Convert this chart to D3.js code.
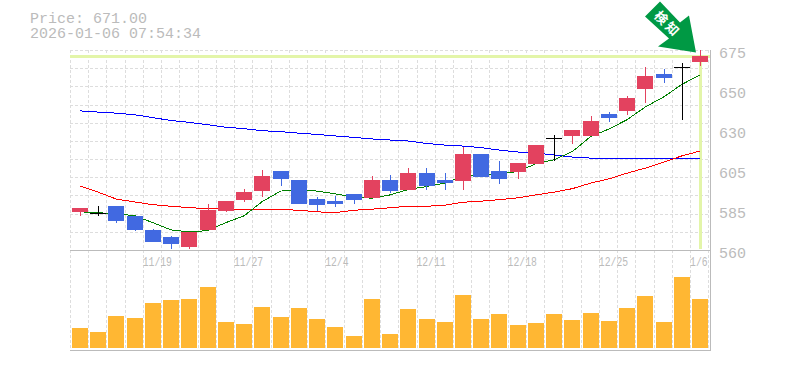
<!DOCTYPE html>
<html>
<head>
<meta charset="utf-8">
<script src="https://cdn.jsdelivr.net/npm/d3@7"></script>
<style>
  html, body { margin: 0; padding: 0; background: #fff; }
  text { font-family: "Liberation Mono", monospace; fill: #bbb; }
  .grid line { stroke: #ddd; stroke-dasharray: 3 2; shape-rendering: crispEdges; }
  .frame line { stroke: #bbb; shape-rendering: crispEdges; }
  .ma { fill: none; stroke-width: 1; shape-rendering: crispEdges; }
</style>
</head>
<body>
<svg class="chart" width="785" height="370"></svg>
<script>
const dates = ['11/13', '11/14', '11/17', '11/18', '11/19', '11/20', '11/21', '11/25', '11/26', '11/27',
  '11/28', '12/1', '12/2', '12/3', '12/4', '12/5', '12/8', '12/9', '12/10', '12/11',
  '12/12', '12/15', '12/16', '12/17', '12/18', '12/19', '12/22', '12/23', '12/24', '12/25',
  '12/26', '12/29', '12/30', '1/5', '1/6'];
const dateLabels = ['11/19', '11/27', '12/4', '12/11', '12/18', '12/25', '1/6'];
const priceLabels = ['560', '585', '605', '630', '650', '675'];

const opens = [581.9, 581.3, 585.3, 579.6, 571.5, 567.5, 561.7, 571.5, 582.4, 588.8,
  593.9, 605.4, 600.3, 589.3, 588.2, 592.2, 589.9, 600.3, 594.5, 604.3,
  600.3, 599.7, 615.2, 605.4, 604.9, 609.5, 624.4, 625.6, 625.6, 638.2,
  639.9, 652.6, 661.2, 665.2, 667.5];
const closes = [584.2, 581.3, 576.7, 571.5, 564.6, 563.5, 570.4, 583, 588.2, 593.4,
  602.6, 600.8, 586.5, 585.9, 586.5, 588.8, 600.3, 593.9, 604.3, 596.8,
  598.5, 615.2, 602, 600.8, 610, 620.4, 624.4, 629, 634.2, 635.9,
  647.4, 660, 658.9, 665.2, 671];
const highs = [584.2, 585.1, 585.3, 579.6, 572.1, 568.1, 570.4, 586.5, 588.2, 595.1,
  606, 605.4, 600.3, 590.5, 591, 592.2, 602.6, 603.1, 607.2, 607.2,
  604.3, 619.2, 615.2, 611.2, 610, 620.4, 626.1, 629, 637, 639.4,
  648.6, 665.2, 664.1, 667.5, 675];
const lows = [579.6, 579.6, 575.7, 570.9, 564.6, 560.6, 560.6, 571.5, 581.9, 587.6,
  590.5, 596.8, 586.5, 582.4, 584.7, 586.5, 589.9, 592.8, 594.5, 594.5,
  594.5, 594.5, 602, 598, 600.8, 609.5, 611.2, 621, 625.6, 633.6,
  637.6, 644.5, 655.5, 634.8, 665.8];

const maShort = [581.9, 581.4, 580.7, 579.7, 575.7, 571.5, 570.4, 571.1, 575.7, 579.6,
  587.8, 593.8, 594.5, 593.8, 592.2, 590.5, 589.7, 591.6, 594.7, 596.4,
  598.4, 602.1, 603.1, 603.7, 605, 609.5, 611.8, 616.5, 625.1, 629.4,
  634.8, 642.1, 647.8, 655, 660.5];
const maMiddle = [596.8, 593.2, 589.2, 587.6, 586, 585.1, 584.3, 583.7, 583.4, 583.4,
  583.4, 583.2, 582.8, 581.9, 581.4, 582.8, 583.4, 584.2, 585.1, 585.1,
  585.7, 587.4, 588, 588.9, 589.9, 591.6, 593.2, 595.2, 598.4, 600.8,
  604.1, 607, 610.4, 614, 616.8];
const maLong = [639.8, 639.1, 638.5, 637.6, 635.9, 634.3, 633.2, 631.9, 630.4, 629.6,
  628.4, 627.9, 627, 626.3, 625.4, 624.6, 623.7, 623.1, 622.5, 621.1,
  620.2, 619.6, 618.7, 617.3, 616.2, 615.6, 614.5, 613.3, 612.7, 612.2,
  612.2, 612.2, 612.2, 612.2, 612.7];

const volumes = [20, 16, 32, 30, 45, 48, 49, 61, 26, 24,
  41, 31, 40, 29, 21, 12, 49, 14, 39, 29,
  26, 53, 29, 34, 23, 25, 34, 28, 35, 27,
  40, 52, 26, 71, 49];

const lastPrice = 671;
const gridCount = 11;

const x = d3.scaleBand().domain(dates).range([70, 710]).paddingInner(0.125).paddingOuter(0.1);
const y = d3.scaleLinear().domain([560, 675]).range([250, 49.5]);
const yLabel = d3.scalePoint().domain(priceLabels).range([250, 50]);
const yVolume = d3.scaleLinear().domain([0, 96]).range([348, 252]);

const chart = d3.select('.chart');
const barX = d => Math.round(x(d));
const midX = d => Math.round(x(d) + x.bandwidth() / 2);

/**
 * Header text
 */
const header = chart.append('text').attr('font-size', 15);
header.append('tspan').attr('x', 30).attr('y', 23).text('Price: 671.00');
header.append('tspan').attr('x', 30).attr('y', 38).text('2026-01-06 07:54:34');

/**
 * Grid
 */
const grid = chart.append('g').attr('class', 'grid');
grid.selectAll('.grid-h')
  .data(d3.range(1, gridCount + 1))
  .enter()
  .append('line')
  .attr('class', 'grid-h')
  .attr('x1', 70)
  .attr('x2', 710)
  .attr('y1', d => Math.round(250 - d * 200 / gridCount))
  .attr('y2', d => Math.round(250 - d * 200 / gridCount));
grid.selectAll('.grid-v')
  .data(dates)
  .enter()
  .append('line')
  .attr('class', 'grid-v')
  .attr('x1', d => barX(d) - 2)
  .attr('x2', d => barX(d) - 2)
  .attr('y1', 50)
  .attr('y2', 350);
grid.append('line')
  .attr('x1', 708.5).attr('x2', 708.5)
  .attr('y1', 50).attr('y2', 350);

/**
 * Last price highlight
 */
chart.append('line')
  .attr('x1', 70)
  .attr('x2', 710)
  .attr('y1', y(lastPrice))
  .attr('y2', y(lastPrice))
  .attr('stroke', '#e3f5a9')
  .attr('stroke-width', 3);
chart.append('line')
  .attr('x1', midX(dates[dates.length - 1]) + 0.5)
  .attr('x2', midX(dates[dates.length - 1]) + 0.5)
  .attr('y1', y(lastPrice))
  .attr('y2', 249)
  .attr('stroke', '#e3f5a9')
  .attr('stroke-width', 3);

/**
 * Frame lines
 */
const frame = chart.append('g').attr('class', 'frame');
frame.append('line').attr('x1', 70).attr('x2', 710).attr('y1', 250.5).attr('y2', 250.5);
frame.append('line').attr('x1', 70).attr('x2', 710).attr('y1', 350.5).attr('y2', 350.5);
frame.append('line').attr('x1', 710.5).attr('x2', 710.5).attr('y1', 50).attr('y2', 351);

/**
 * Moving averages
 */
const maLine = d3.line().x((d, i) => x(dates[i]) + x.bandwidth() / 2).y(d => y(d));
[[maLong, '#0000ff'], [maMiddle, '#ff0000'], [maShort, '#008000']].forEach(([values, color]) => {
  chart.append('path')
    .attr('class', 'ma')
    .attr('stroke', color)
    .attr('d', maLine(values));
});

/**
 * Candles
 */
const candleColor = i => closes[i] > opens[i] ? '#e3425f' : closes[i] < opens[i] ? '#4169e1' : '#000';
const candles = chart.append('g').attr('class', 'candles').attr('shape-rendering', 'crispEdges');
candles.selectAll('.wick')
  .data(dates)
  .enter()
  .append('line')
  .attr('class', 'wick')
  .attr('x1', midX)
  .attr('x2', midX)
  .attr('y1', (d, i) => y(highs[i]))
  .attr('y2', (d, i) => y(lows[i]))
  .attr('stroke', (d, i) => candleColor(i));
candles.selectAll('.body')
  .data(dates)
  .enter()
  .append('rect')
  .attr('class', 'body')
  .attr('x', barX)
  .attr('width', x.bandwidth())
  .attr('y', (d, i) => Math.round(y(Math.max(opens[i], closes[i]))))
  .attr('height', (d, i) => Math.max(1, Math.round(Math.abs(y(opens[i]) - y(closes[i])))))
  .attr('fill', (d, i) => candleColor(i));

/**
 * Volume bars
 */
chart.append('g')
  .attr('shape-rendering', 'crispEdges')
  .selectAll('rect')
  .data(volumes)
  .enter()
  .append('rect')
  .attr('x', (d, i) => barX(dates[i]))
  .attr('width', x.bandwidth())
  .attr('y', d => yVolume(d))
  .attr('height', d => yVolume(0) - yVolume(d))
  .attr('fill', '#ffb733');

/**
 * Axes
 */
const priceAxis = chart.append('g')
  .attr('transform', 'translate(719,0)')
  .call(d3.axisRight(yLabel).tickSize(0).tickPadding(0));
priceAxis.select('.domain').remove();
priceAxis.selectAll('text')
  .attr('font-size', 15)
  .attr('dy', '0.5em');
priceAxis.attr('font-family', null).attr('font-size', null);

const dateAxis = chart.append('g')
  .attr('transform', 'translate(0,257)')
  .call(d3.axisBottom(x).tickValues(dateLabels).tickSize(0).tickPadding(0));
dateAxis.select('.domain').remove();
dateAxis.attr('font-family', null).attr('font-size', null);
dateAxis.selectAll('text')
  .attr('font-size', 12)
  .attr('text-anchor', 'start')
  .attr('x', -x.step() / 2 - 1)
  .attr('y', 0)
  .attr('dy', '0.75em')
  .attr('textLength', d => d.length * 5.85)
  .attr('lengthAdjust', 'spacingAndGlyphs');

/**
 * Alert arrow pointing at the last candle
 */
const lastX = midX(dates[dates.length - 1]);
const arrow = chart.append('g')
  .attr('transform', `translate(${lastX},${y(lastPrice)})`);
arrow.append('path')
  .attr('fill', '#009944')
  .attr('d', 'M-4,-4 L-42,-10 L-31,-18 L-55,-40 L-40,-55 L-20,-34 L-11,-41 Z');
arrow.selectAll('text')
  .data(['検', '知'])
  .enter()
  .append('text')
  .attr('transform', (d, i) => `translate(${-39 + i * 11},${-38.5 + i * 11}) rotate(45)`)
  .attr('text-anchor', 'middle')
  .attr('dy', '0.35em')
  .attr('font-size', 13)
  .attr('font-weight', 'bold')
  .style('font-family', '"Noto Sans CJK JP"')
  .style('fill', '#fff')
  .text(d => d);
</script>
</body>
</html>
